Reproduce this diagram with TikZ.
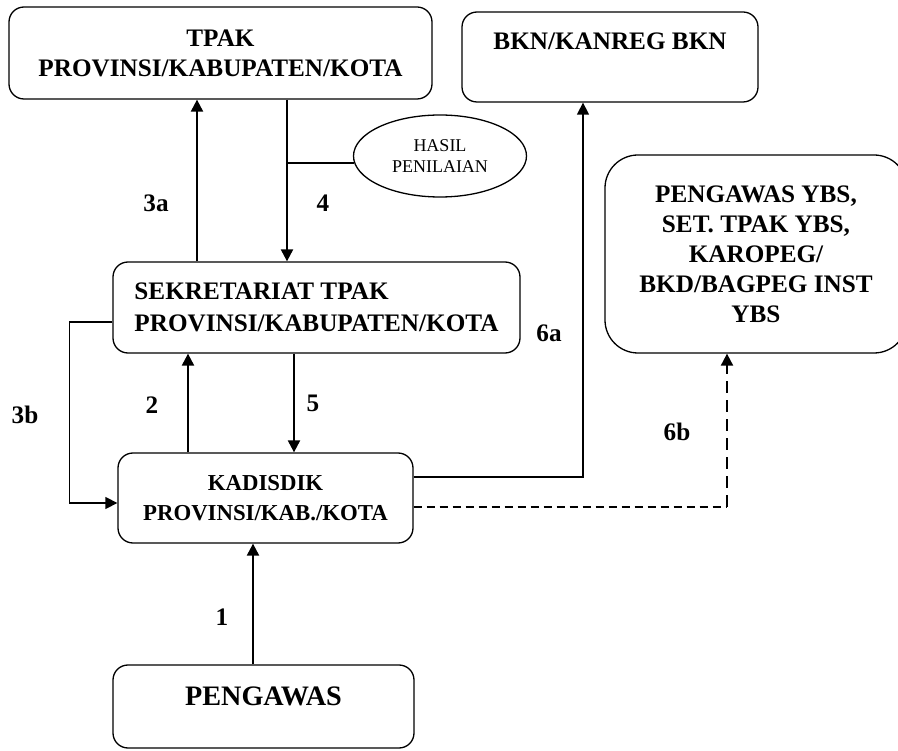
\documentclass[tikz,border=0pt]{standalone}
\usepackage{fontspec}
\setmainfont{Liberation Serif}
\usetikzlibrary{arrows.meta, shapes.geometric}

\tikzset{
    box/.style={draw, rounded corners=15pt, line width=1.3pt, inner sep=0pt,
        font=\fontsize{25.2}{30}\selectfont\bfseries},
    arr/.style={-{Triangle[length=12pt,width=12pt]}, line width=2.2pt},
    thinarr/.style={-{Triangle[length=12pt,width=12pt]}, line width=1.4pt},
    num/.style={font=\fontsize{25.2}{30}\selectfont\bfseries, inner sep=0pt}
}

\begin{document}
\begin{tikzpicture}[x=1pt, y=-1pt]
    \useasboundingbox (0,0) rectangle (898,751);
	\node[box, align=center, minimum width=423pt, minimum height=92pt] (tpak) at (220.5,53) {TPAK\\PROVINSI/KABUPATEN/KOTA};
	\node[box, minimum width=296pt, minimum height=90pt, text height=17pt, text depth=31pt] (bkn) at (610,57) {BKN/KANREG BKN};
    \node[draw, ellipse, line width=1.3pt, inner sep=0pt, minimum width=173pt, minimum height=82pt,
        align=center, font=\fontsize{18}{21}\selectfont] (hasil) at (440,156) {HASIL\\PENILAIAN};
    \node[box, align=center, rounded corners=33pt, minimum width=302pt, minimum height=198pt] (ybs) at (756,254)
        {PENGAWAS YBS,\\SET. TPAK YBS,\\KAROPEG/\\BKD/BAGPEG INST\\YBS};
    \node[box, align=left, minimum width=407pt, minimum height=91pt,
        font=\fontsize{25.2}{32}\selectfont\bfseries] (sek) at (316.5,307.5) {SEKRETARIAT TPAK\\PROVINSI/KABUPATEN/KOTA};
    \node[box, align=center, minimum width=295pt, minimum height=90pt,
        font=\fontsize{22.8}{30}\selectfont\bfseries] (kad) at (265.5,498) {KADISDIK\\PROVINSI/KAB./KOTA};
    \node[box, minimum width=301pt, minimum height=83pt, font=\fontsize{28.2}{30}\selectfont\bfseries,
        text height=19pt, text depth=22pt] (peng) at (263.5,706.5) {PENGAWAS};
    \coordinate (c6b) at (727,507);

    \draw[arr] (197,0 |- sek.north) -- (197,0 |- tpak.south);
    \draw[arr] (287,0 |- tpak.south) -- (287,0 |- sek.north);
    \draw[line width=2pt] (hasil.185) -- (287,0 |- hasil.185);
    \draw[thinarr] ([yshift=-14.5pt]sek.west) -- ++(-43,0) |- ([yshift=-5pt]kad.west);
    \draw[arr] (188,0 |- kad.north) -- (188,0 |- sek.south);
    \draw[arr] (294,0 |- sek.south) -- (294,0 |- kad.north);
    \draw[arr] (253,0 |- peng.north) -- (253,0 |- kad.south);
    \draw[thinarr] ([yshift=21pt]kad.east) -| (583,0 |- bkn.south);
    \draw[line width=1.3pt, dash pattern=on 8pt off 5pt] ([yshift=-9pt]kad.east) -- (c6b);
    \draw[arr, line width=2pt, dash pattern=on 12pt off 7pt] (c6b) -- (c6b |- ybs.south);

    \node[num] (l3a) at (156,203) {3a};
    \node[num] (l4) at (323,203) {4};
    \node[num] (l3b) at (25,415) {3b};
    \node[num] (l2) at (152,405) {2};
    \node[num] (l5) at (313,403) {5};
    \node[num] (l1) at (222,617) {1};
    \node[num] (l6a) at (549,333) {6a};
    \node[num] (l6b) at (677,432) {6b};
\end{tikzpicture}
\end{document}
